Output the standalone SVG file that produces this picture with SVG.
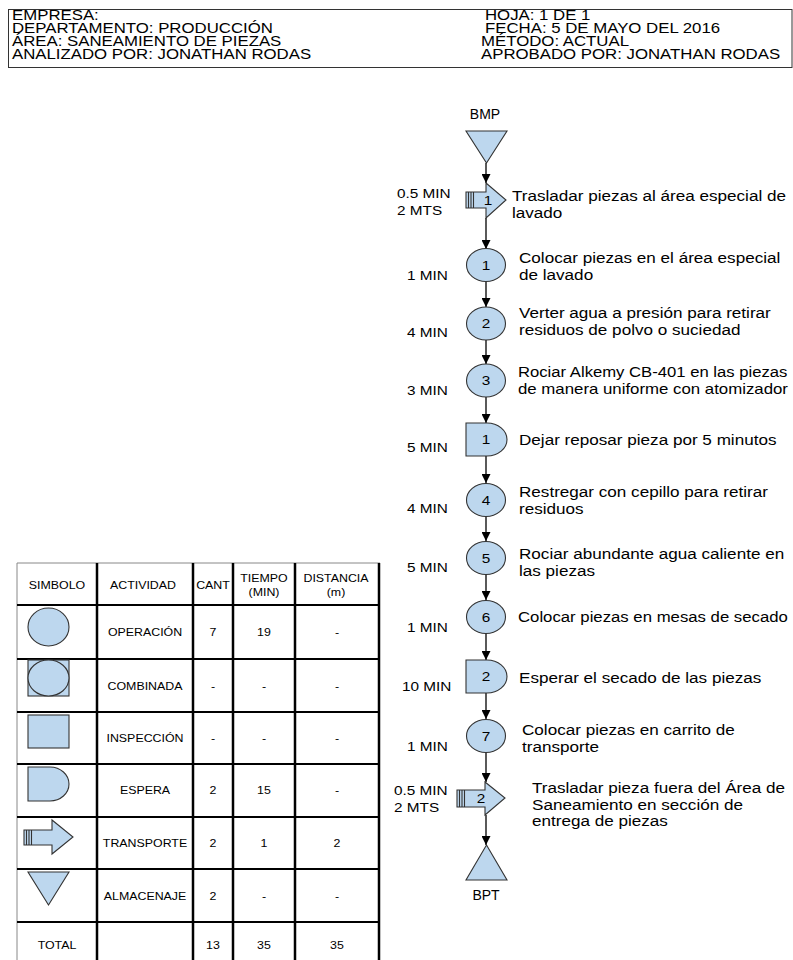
<svg xmlns="http://www.w3.org/2000/svg" width="793" height="960" viewBox="0 0 793 960">
<defs>
<style>
text{font-family:"Liberation Sans",Arial,sans-serif;fill:#000}
.h{font-size:14px}
.d{font-size:14.5px}
.l{font-size:13px}
.n{font-size:13px;text-anchor:middle}
.c{font-size:14px;text-anchor:middle}
.t{font-size:10.5px;text-anchor:middle}
.s{fill:#bdd7ee;stroke:#333;stroke-width:1.1}
.st{stroke:#333;stroke-width:1.1}
.cn{stroke:#000;stroke-width:1.3;fill:none;marker-end:url(#ah)}
.g{stroke:#000;stroke-width:2.5}
.gh{stroke:#000;stroke-width:2}
.gt{stroke:#888;stroke-width:1}
</style>
<marker id="ah" viewBox="0 0 10 10" refX="10" refY="5" markerWidth="9" markerHeight="9" markerUnits="userSpaceOnUse" orient="auto"><path d="M0,0 L10,5 L0,10 z" fill="#000"/></marker>
</defs>
<rect width="793" height="960" fill="#fff"/>

<g id="header">
<rect x="8.5" y="9.5" width="783.5" height="58" fill="none" stroke="#333" stroke-width="1"/>
<text class="h" transform="matrix(1.2,0,0,1,12,20)">EMPRESA:</text>
<text class="h" transform="matrix(1.2,0,0,1,12,33)">DEPARTAMENTO: PRODUCCIÓN</text>
<text class="h" transform="matrix(1.2,0,0,1,12,46)">ÁREA: SANEAMIENTO DE PIEZAS</text>
<text class="h" transform="matrix(1.2,0,0,1,12,59)">ANALIZADO POR: JONATHAN RODAS</text>
<text class="h" transform="matrix(1.2,0,0,1,485,20)">HOJA: 1 DE 1</text>
<text class="h" transform="matrix(1.2,0,0,1,485,33)">FECHA: 5 DE MAYO DEL 2016</text>
<text class="h" transform="matrix(1.2,0,0,1,481,46)">MÉTODO: ACTUAL</text>
<text class="h" transform="matrix(1.2,0,0,1,481,59)">APROBADO POR: JONATHAN RODAS</text>
</g>

<g id="connectors">
<line class="cn" x1="486" y1="163" x2="486" y2="183"/>
<line class="cn" x1="486" y1="218" x2="486" y2="249"/>
<line class="cn" x1="486" y1="281" x2="486" y2="307"/>
<line class="cn" x1="486" y1="340" x2="486" y2="364"/>
<line class="cn" x1="486" y1="397" x2="486" y2="423"/>
<line class="cn" x1="486" y1="456" x2="486" y2="483"/>
<line class="cn" x1="486" y1="517" x2="486" y2="541"/>
<line class="cn" x1="486" y1="575" x2="486" y2="600"/>
<line class="cn" x1="486" y1="634" x2="486" y2="660"/>
<line class="cn" x1="486" y1="693" x2="486" y2="719"/>
<line class="cn" x1="486" y1="753" x2="486" y2="782"/>
<line class="cn" x1="486" y1="815" x2="486" y2="845"/>
</g>

<g id="bmp">
<text class="c" x="485" y="119">BMP</text>
<path class="s" d="M466,131 H507 L486.5,163 Z"/>
</g>

<g id="transporte1">
<path class="s" d="M466,192 H486 V183 L506,200 L486,218 V208 H466 Z"/>
<line class="st" x1="468.5" y1="192" x2="468.5" y2="208"/>
<line class="st" x1="471" y1="192" x2="471" y2="208"/>
<line class="st" x1="473.5" y1="192" x2="473.5" y2="208"/>
<text class="n" transform="matrix(1.18,0,0,1,488,205)">1</text>
<text class="l" transform="matrix(1.18,0,0,1,397,198)">0.5 MIN</text>
<text class="l" transform="matrix(1.18,0,0,1,397,215)">2 MTS</text>
<text class="d" transform="matrix(1.18,0,0,1,512,201)">Trasladar piezas al área especial de</text>
<text class="d" transform="matrix(1.18,0,0,1,512,218)">lavado</text>
</g>

<g id="op1">
<ellipse class="s" cx="486" cy="265" rx="19.5" ry="16.5"/>
<text class="n" transform="matrix(1.18,0,0,1,486,270)">1</text>
<text class="l" transform="matrix(1.18,0,0,1,407,280)">1 MIN</text>
<text class="d" transform="matrix(1.18,0,0,1,519,263)">Colocar piezas en el área especial</text>
<text class="d" transform="matrix(1.18,0,0,1,519,280)">de lavado</text>
</g>

<g id="op2">
<ellipse class="s" cx="486" cy="323.5" rx="19.5" ry="16.5"/>
<text class="n" transform="matrix(1.18,0,0,1,486,328)">2</text>
<text class="l" transform="matrix(1.18,0,0,1,407,337)">4 MIN</text>
<text class="d" transform="matrix(1.18,0,0,1,519,318)">Verter agua a presión para retirar</text>
<text class="d" transform="matrix(1.18,0,0,1,519,335)">residuos de polvo o suciedad</text>
</g>

<g id="op3">
<ellipse class="s" cx="486" cy="380.5" rx="19.5" ry="16.5"/>
<text class="n" transform="matrix(1.18,0,0,1,486,385)">3</text>
<text class="l" transform="matrix(1.18,0,0,1,407,395)">3 MIN</text>
<text class="d" transform="matrix(1.15,0,0,1,518,377)">Rociar Alkemy CB-401 en las piezas</text>
<text class="d" transform="matrix(1.16,0,0,1,518,394)">de manera uniforme con atomizador</text>
</g>

<g id="espera1">
<path class="s" d="M466,423 H487 A20,16.5 0 0 1 487,456 H466 Z"/>
<text class="n" transform="matrix(1.18,0,0,1,486,444)">1</text>
<text class="l" transform="matrix(1.18,0,0,1,407,452)">5 MIN</text>
<text class="d" transform="matrix(1.18,0,0,1,519,445)">Dejar reposar pieza por 5 minutos</text>
</g>

<g id="op4">
<ellipse class="s" cx="486" cy="500" rx="19.5" ry="16.5"/>
<text class="n" transform="matrix(1.18,0,0,1,486,505)">4</text>
<text class="l" transform="matrix(1.18,0,0,1,407,513)">4 MIN</text>
<text class="d" transform="matrix(1.18,0,0,1,519,497)">Restregar con cepillo para retirar</text>
<text class="d" transform="matrix(1.18,0,0,1,519,514)">residuos</text>
</g>

<g id="op5">
<ellipse class="s" cx="486" cy="558" rx="19.5" ry="16.5"/>
<text class="n" transform="matrix(1.18,0,0,1,486,563)">5</text>
<text class="l" transform="matrix(1.18,0,0,1,407,572)">5 MIN</text>
<text class="d" transform="matrix(1.18,0,0,1,519,559)">Rociar abundante agua caliente en</text>
<text class="d" transform="matrix(1.18,0,0,1,519,576)">las piezas</text>
</g>

<g id="op6">
<ellipse class="s" cx="486" cy="617" rx="19.5" ry="16.5"/>
<text class="n" transform="matrix(1.18,0,0,1,486,622)">6</text>
<text class="l" transform="matrix(1.18,0,0,1,407,632)">1 MIN</text>
<text class="d" transform="matrix(1.155,0,0,1,518,622)">Colocar piezas en mesas de secado</text>
</g>

<g id="espera2">
<path class="s" d="M466,660 H487 A20,16.5 0 0 1 487,693 H466 Z"/>
<text class="n" transform="matrix(1.18,0,0,1,486,681)">2</text>
<text class="l" transform="matrix(1.18,0,0,1,402,691)">10 MIN</text>
<text class="d" transform="matrix(1.18,0,0,1,519,683)">Esperar el secado de las piezas</text>
</g>

<g id="op7">
<ellipse class="s" cx="486" cy="736" rx="19.5" ry="16.5"/>
<text class="n" transform="matrix(1.18,0,0,1,486,741)">7</text>
<text class="l" transform="matrix(1.18,0,0,1,407,751)">1 MIN</text>
<text class="d" transform="matrix(1.18,0,0,1,522,735)">Colocar piezas en carrito de</text>
<text class="d" transform="matrix(1.18,0,0,1,522,752)">transporte</text>
</g>

<g id="transporte2">
<path class="s" d="M457,790 H485 V782 L505,798 L485,815 V807 H457 Z"/>
<line class="st" x1="459.5" y1="790" x2="459.5" y2="807"/>
<line class="st" x1="462" y1="790" x2="462" y2="807"/>
<line class="st" x1="464.5" y1="790" x2="464.5" y2="807"/>
<text class="n" transform="matrix(1.18,0,0,1,481,803)">2</text>
<text class="l" transform="matrix(1.18,0,0,1,394,795)">0.5 MIN</text>
<text class="l" transform="matrix(1.18,0,0,1,394,812)">2 MTS</text>
<text class="d" transform="matrix(1.18,0,0,1,532,793)">Trasladar pieza fuera del Área de</text>
<text class="d" transform="matrix(1.18,0,0,1,532,810)">Saneamiento en sección de</text>
<text class="d" transform="matrix(1.18,0,0,1,532,826)">entrega de piezas</text>
</g>

<g id="bpt">
<path class="s" d="M486.5,845 L507,880 H466 Z"/>
<text class="c" x="486" y="900">BPT</text>
</g>

<g id="tabla">
<line class="gt" x1="17" y1="563" x2="380" y2="563"/>
<line class="gt" x1="17" y1="563" x2="17" y2="962"/>
<line class="gh" x1="17" y1="605" x2="380" y2="605"/>
<line class="gh" x1="17" y1="659" x2="380" y2="659"/>
<line class="gh" x1="17" y1="712" x2="380" y2="712"/>
<line class="gh" x1="17" y1="764" x2="380" y2="764"/>
<line class="gh" x1="17" y1="817" x2="380" y2="817"/>
<line class="gh" x1="17" y1="869" x2="380" y2="869"/>
<line class="gh" x1="17" y1="922" x2="380" y2="922"/>
<line class="g" x1="97" y1="563" x2="97" y2="962"/>
<line class="g" x1="193" y1="563" x2="193" y2="962"/>
<line class="g" x1="233" y1="563" x2="233" y2="962"/>
<line class="g" x1="295" y1="563" x2="295" y2="962"/>
<line class="g" x1="379" y1="563" x2="379" y2="962"/>

<text class="t" transform="matrix(1.18,0,0,1,57,589)">SIMBOLO</text>
<text class="t" transform="matrix(1.18,0,0,1,143,589)">ACTIVIDAD</text>
<text class="t" transform="matrix(1.18,0,0,1,213,589)">CANT</text>
<text class="t" transform="matrix(1.18,0,0,1,264,582)">TIEMPO</text>
<text class="t" transform="matrix(1.18,0,0,1,264,596)">(MIN)</text>
<text class="t" transform="matrix(1.18,0,0,1,336,582)">DISTANCIA</text>
<text class="t" transform="matrix(1.18,0,0,1,336,596)">(m)</text>

<ellipse class="s" cx="48.5" cy="627" rx="20.5" ry="19"/>
<text class="t" transform="matrix(1.18,0,0,1,145,636)">OPERACIÓN</text>
<text class="t" transform="matrix(1.18,0,0,1,213,636)">7</text>
<text class="t" transform="matrix(1.18,0,0,1,264,636)">19</text>
<text class="t" transform="matrix(1.18,0,0,1,337,636)">-</text>

<rect class="s" x="28" y="660" width="41" height="36"/>
<ellipse class="s" cx="48.5" cy="678" rx="20.5" ry="18"/>
<text class="t" transform="matrix(1.18,0,0,1,145,690)">COMBINADA</text>
<text class="t" transform="matrix(1.18,0,0,1,213,690)">-</text>
<text class="t" transform="matrix(1.18,0,0,1,264,690)">-</text>
<text class="t" transform="matrix(1.18,0,0,1,337,690)">-</text>

<rect class="s" x="28" y="715" width="41" height="33"/>
<text class="t" transform="matrix(1.18,0,0,1,145,742)">INSPECCIÓN</text>
<text class="t" transform="matrix(1.18,0,0,1,213,742)">-</text>
<text class="t" transform="matrix(1.18,0,0,1,264,742)">-</text>
<text class="t" transform="matrix(1.18,0,0,1,337,742)">-</text>

<path class="s" d="M28,767 H50 A19,17 0 0 1 50,801 H28 Z"/>
<text class="t" transform="matrix(1.18,0,0,1,145,794)">ESPERA</text>
<text class="t" transform="matrix(1.18,0,0,1,213,794)">2</text>
<text class="t" transform="matrix(1.18,0,0,1,264,794)">15</text>
<text class="t" transform="matrix(1.18,0,0,1,337,794)">-</text>

<path class="s" d="M24,830 H52 V820 L73,837 L52,854 V845 H24 Z"/>
<line class="st" x1="26.5" y1="830" x2="26.5" y2="845"/>
<line class="st" x1="29" y1="830" x2="29" y2="845"/>
<line class="st" x1="31.5" y1="830" x2="31.5" y2="845"/>
<text class="t" transform="matrix(1.18,0,0,1,145,847)">TRANSPORTE</text>
<text class="t" transform="matrix(1.18,0,0,1,213,847)">2</text>
<text class="t" transform="matrix(1.18,0,0,1,264,847)">1</text>
<text class="t" transform="matrix(1.18,0,0,1,337,847)">2</text>

<path class="s" d="M28,872 H69 L48.5,905 Z"/>
<text class="t" transform="matrix(1.18,0,0,1,145,900)">ALMACENAJE</text>
<text class="t" transform="matrix(1.18,0,0,1,213,900)">2</text>
<text class="t" transform="matrix(1.18,0,0,1,264,900)">-</text>
<text class="t" transform="matrix(1.18,0,0,1,337,900)">-</text>

<text class="t" transform="matrix(1.18,0,0,1,57,949)">TOTAL</text>
<text class="t" transform="matrix(1.18,0,0,1,213,949)">13</text>
<text class="t" transform="matrix(1.18,0,0,1,264,949)">35</text>
<text class="t" transform="matrix(1.18,0,0,1,337,949)">35</text>
</g>
</svg>
